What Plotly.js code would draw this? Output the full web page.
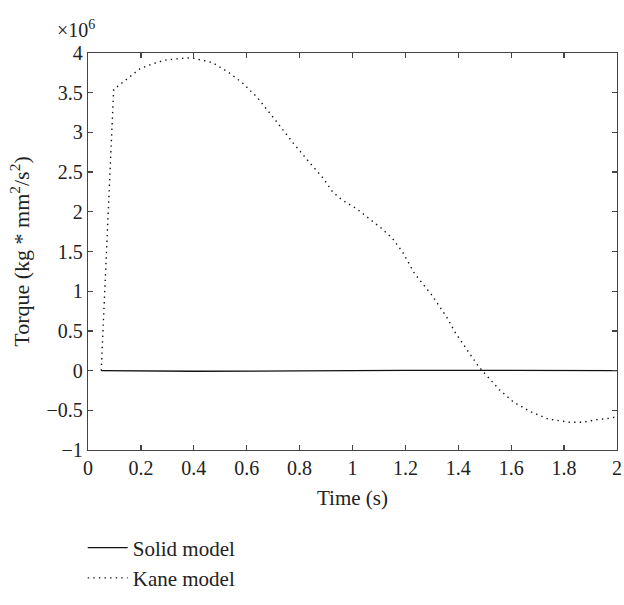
<!DOCTYPE html>
<html>
<head>
<meta charset="utf-8">
<script src="https://cdn.plot.ly/plotly-3.0.1.min.js"></script>
<style>html,body{margin:0;padding:0;background:#fff;}#chart{width:624px;height:605px;}</style>
</head>
<body>
<div id="chart"></div>
<script>
// Torque values in units of 10^6 kg*mm^2/s^2
const kaneTime = [0.05, 0.06, 0.07, 0.08, 0.09, 0.097, 0.12, 0.16, 0.196, 0.24, 0.29, 0.347, 0.39, 0.47, 0.53, 0.585, 0.64, 0.70, 0.73, 0.775, 0.84, 0.89, 0.925, 0.96, 1.015, 1.065, 1.11, 1.15, 1.19, 1.235, 1.30, 1.355, 1.39, 1.475, 1.49, 1.555, 1.61, 1.675, 1.74, 1.82, 1.87, 1.92, 1.975, 2.0];
const kaneTorque = [0.0, 0.75, 1.5, 2.25, 3.0, 3.54, 3.6, 3.7, 3.80, 3.86, 3.91, 3.93, 3.94, 3.88, 3.76, 3.62, 3.44, 3.19, 3.06, 2.87, 2.61, 2.42, 2.25, 2.15, 2.04, 1.91, 1.79, 1.67, 1.49, 1.22, 0.95, 0.68, 0.47, 0.06, 0.0, -0.24, -0.40, -0.52, -0.61, -0.65, -0.65, -0.62, -0.60, -0.58];
const solidTime = [0.05, 0.4, 0.8, 1.2, 1.6, 2.0];
const solidTorque = [0.0, -0.008, -0.004, 0.004, 0.002, 0.0];
const xTicks = [0, 0.2, 0.4, 0.6, 0.8, 1, 1.2, 1.4, 1.6, 1.8, 2];
const yTicks = [-1, -0.5, 0, 0.5, 1, 1.5, 2, 2.5, 3, 3.5, 4];

const family = '"Liberation Serif", "DejaVu Serif", serif';
const tickFont = {family: family, size: 20, color: '#222'};
const xTitleFont = {family: family, size: 21, color: '#222'};
const yTitleFont = {family: family, size: 22, color: '#222'};
const legendFont = {family: family, size: 21, color: '#222'};

const traces = [
  {x: solidTime, y: solidTorque, mode: 'lines', name: 'Solid model',
   line: {color: '#111', width: 1.3}},
  {x: kaneTime, y: kaneTorque, mode: 'lines', name: 'Kane model',
   line: {color: '#111', width: 1.4, dash: '1.4px,4.2px'}}
];

const axisCommon = {
  showgrid: false, zeroline: false, showline: true, linecolor: '#444', linewidth: 1.3,
  mirror: 'ticks', ticks: 'inside', ticklen: 5, tickcolor: '#444', tickwidth: 1.3,
  tickfont: tickFont
};

const layout = {
  width: 624, height: 605,
  margin: {l: 88, r: 7, t: 53, b: 135},
  paper_bgcolor: '#fff', plot_bgcolor: '#fff',
  font: tickFont,
  xaxis: Object.assign({}, axisCommon, {
    range: [0, 2], tickvals: xTicks, ticktext: xTicks.map(String),
    title: {text: 'Time (s)', font: xTitleFont, standoff: 12}
  }),
  yaxis: Object.assign({}, axisCommon, {
    range: [-1, 4], tickvals: yTicks,
    title: {text: 'Torque (kg * mm<sup>2</sup>/s<sup>2</sup>)', font: yTitleFont, standoff: 10}
  }),
  showlegend: true,
  legend: {x: -0.01, y: -0.195, xanchor: 'left', yanchor: 'top', font: legendFont,
           bgcolor: 'rgba(0,0,0,0)', tracegroupgap: 0, itemwidth: 40},
  annotations: [{
    xref: 'paper', yref: 'paper', x: 0, y: 1, xshift: -33, yshift: 10,
    xanchor: 'left', yanchor: 'bottom', showarrow: false,
    text: '×10<sup>6</sup>', font: tickFont
  }]
};

Plotly.newPlot('chart', traces, layout, {displayModeBar: false, staticPlot: true});
</script>
</body>
</html>
